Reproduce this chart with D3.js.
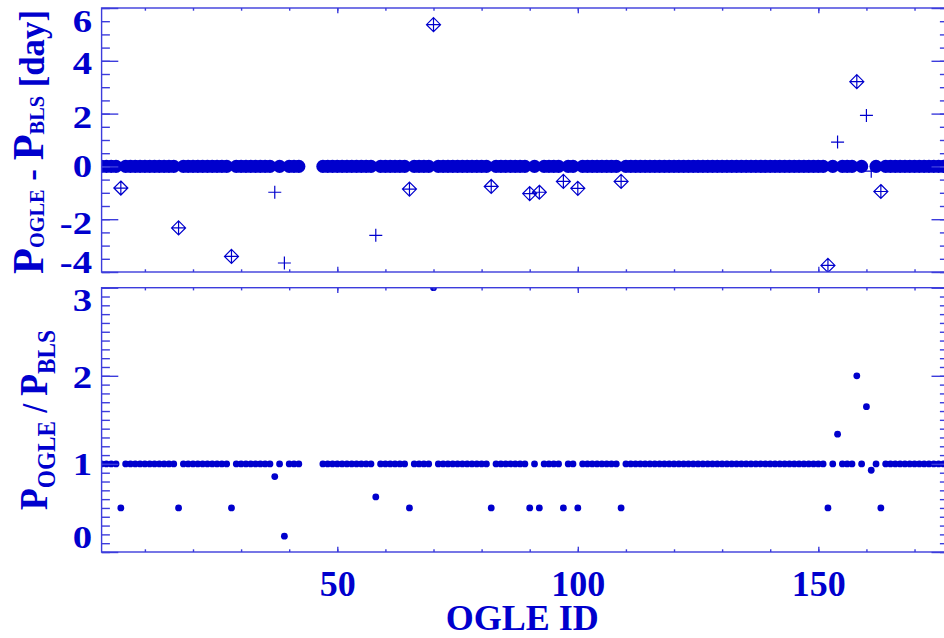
<!DOCTYPE html>
<html>
<head>
<meta charset="utf-8">
<script src="https://cdn.jsdelivr.net/npm/d3@7"></script>
<style>
  body { margin: 0; background: #fff; overflow: hidden; }
  svg { display: block; }
  text { font-family: "Liberation Serif", "Times New Roman", serif; font-weight: bold; fill: #0000cd; }
</style>
</head>
<body>
<svg id="chart" width="944" height="638"></svg>
<script>
// OGLE IDs where both periods agree (difference 0, ratio 1)
const matchedIds = [
  1,2,3,4,6,7,8,9,10,11,12,13,14,15,16,18,19,20,21,22,23,24,25,26,27,
  29,30,31,32,33,34,35,36,38,40,41,42,47,48,49,50,51,52,53,54,55,56,57,
  59,60,61,62,63,64,66,67,68,69,71,72,73,74,75,76,77,78,79,80,81,
  83,84,85,86,87,88,89,91,93,94,95,96,98,99,101,102,103,104,105,106,107,108,
  110,111,112,113,114,115,116,117,118,119,120,121,122,123,124,125,126,127,128,129,
  130,131,132,133,134,135,136,137,138,139,140,141,142,143,144,145,146,147,148,149,
  150,151,153,155,156,157,159,162,164,165,166,167,168,169,170,171,172,173,174,175,176
];

// IDs where the periods disagree
const offIds   = [5, 17, 28, 37, 39, 58, 65, 70, 82, 90, 92, 97, 100, 109, 152, 154, 158, 160, 161, 163];
const offDiff  = [-0.82, -2.33, -3.41, -0.98, -3.66, -2.61, -0.86, 5.37, -0.76, -1.03, -0.98, -0.57, -0.83, -0.57, -3.75, 0.92, 3.21, 1.93, -0.18, -0.95];
const offRatio = [0.5, 0.5, 0.5, 0.856, 0.18, 0.625, 0.5, 3.0, 0.5, 0.5, 0.5, 0.5, 0.5, 0.5, 0.5, 1.337, 2.0, 1.65, 0.928, 0.5];
// harmonics get a diamond round the plus
const harmonicIds = [5, 17, 28, 65, 70, 82, 90, 92, 97, 100, 109, 152, 158, 163];

const xLabelTicks = [50, 100, 150];
const diffLabelTicks = [-4, -2, 0, 2, 4, 6];
const ratioLabelTicks = [0, 1, 2, 3];

const BLUE = "#0000cd";
const AXIS = "#3c3cdc";

const svg = d3.select("#chart");

const x = d3.scaleLinear().domain([1, 177]).range([101.6, 948.2]);
const yDiff  = d3.scaleLinear().domain([-4, 6]).range([272, 8]);
const yRatio = d3.scaleLinear().domain([0, 3]).range([552, 287.7]);

const [x0, x1] = x.range();
const plain = d => String(d);   // hyphen minus, like the original

function styleAxis(g) {
  g.select(".domain").remove();
  g.selectAll("line").attr("stroke", AXIS).attr("stroke-width", 1.4);
}

function drawFrame(y, majors, nudge, showX) {
  const [yb, yt] = y.range();
  const minors = y.ticks(y === yDiff ? 20 : 30);

  // left axis: major with labels, minor without
  const gl = svg.append("g").attr("transform", `translate(${x0},0)`)
    .call(d3.axisLeft(y).tickValues(majors).tickSize(-16.7).tickSizeOuter(0).tickFormat(plain));
  styleAxis(gl);
  gl.selectAll("text")
    .attr("x", null).attr("dy", null)
    .attr("font-size", 31)
    .attr("transform", d => `translate(-9.5,${10.5 + (nudge[d] || 0)}) scale(1.25,1)`);
  styleAxis(svg.append("g").attr("transform", `translate(${x0},0)`)
    .call(d3.axisLeft(y).tickValues(minors).tickSize(-8.3).tickSizeOuter(0).tickFormat("")));

  // right axis
  styleAxis(svg.append("g").attr("transform", `translate(${x1},0)`)
    .call(d3.axisRight(y).tickValues(majors).tickSize(-16.7).tickSizeOuter(0).tickFormat("")));
  styleAxis(svg.append("g").attr("transform", `translate(${x1},0)`)
    .call(d3.axisRight(y).tickValues(minors).tickSize(-8.3).tickSizeOuter(0).tickFormat("")));

  // top and bottom x ticks
  const xMinor = x.ticks(17);
  styleAxis(svg.append("g").attr("transform", `translate(0,${yt})`)
    .call(d3.axisTop(x).tickValues(xLabelTicks).tickSize(-5.3).tickSizeOuter(0).tickFormat("")));
  styleAxis(svg.append("g").attr("transform", `translate(0,${yt})`)
    .call(d3.axisTop(x).tickValues(xMinor).tickSize(-2.7).tickSizeOuter(0).tickFormat("")));
  const gb = svg.append("g").attr("transform", `translate(0,${yb})`)
    .call(d3.axisBottom(x).tickValues(xLabelTicks).tickSize(-5.3).tickSizeOuter(0)
      .tickFormat(showX ? plain : ""));
  styleAxis(gb);
  gb.selectAll("text").attr("y", 44).attr("dy", null).attr("font-size", 36);
  styleAxis(svg.append("g").attr("transform", `translate(0,${yb})`)
    .call(d3.axisBottom(x).tickValues(xMinor).tickSize(-2.7).tickSizeOuter(0).tickFormat("")));

  // box
  svg.append("rect")
    .attr("x", x0).attr("y", yt).attr("width", x1 - x0).attr("height", yb - yt)
    .attr("fill", "none").attr("stroke", AXIS).attr("stroke-width", 1.4);
}

// clip paths
const defs = svg.append("defs");
[["clipTop", yDiff], ["clipBot", yRatio]].forEach(([id, y]) => {
  const [yb, yt] = y.range();
  defs.append("clipPath").attr("id", id).append("rect")
    .attr("x", x0).attr("y", yt).attr("width", x1 - x0).attr("height", yb - yt);
});

const offData = offIds.map((id, i) => ({ id, diff: offDiff[i], ratio: offRatio[i], harm: harmonicIds.includes(id) }));

// top panel marks
const gTop = svg.append("g").attr("clip-path", "url(#clipTop)");
gTop.selectAll("path.off").data(offData).join("path")
  .attr("class", "off")
  .attr("transform", d => `translate(${x(d.id)},${yDiff(d.diff)})`)
  .attr("d", d => d.harm ? "M0,-7L7,0L0,7L-7,0Z M-7,0H7 M0,-7V7" : "M-6.5,0H6.5M0,-6.5V6.5")
  .attr("fill", "none").attr("stroke", BLUE).attr("stroke-width", 1.2);
gTop.selectAll("circle").data(matchedIds).join("circle")
  .attr("cx", d => x(d)).attr("cy", yDiff(0)).attr("r", 6.6).attr("fill", BLUE);

// bottom panel marks
const gBot = svg.append("g").attr("clip-path", "url(#clipBot)");
gBot.selectAll("circle.m").data(matchedIds).join("circle")
  .attr("class", "m")
  .attr("cx", d => x(d)).attr("cy", yRatio(1)).attr("r", 3.4).attr("fill", BLUE);
gBot.selectAll("circle.o").data(offData).join("circle")
  .attr("class", "o")
  .attr("cx", d => x(d.id)).attr("cy", d => yRatio(d.ratio)).attr("r", 3.4).attr("fill", BLUE);

drawFrame(yDiff, diffLabelTicks, { 6: 13, 4: 2, 2: 3, 0: 0, "-2": 4, "-4": -10 }, false);
drawFrame(yRatio, ratioLabelTicks, { 3: 12, 2: 1, 1: 0, 0: -15 }, true);

// axis titles
svg.append("text")
  .attr("x", (x0 + 943) / 2).attr("y", 630)
  .attr("text-anchor", "middle").attr("font-size", 36)
  .text("OGLE ID");

function yTitle(cx, cy, len, big, sub, shift, parts) {
  const t = svg.append("text")
    .attr("transform", `translate(${cx},${cy}) rotate(-90)`)
    .attr("text-anchor", "middle")
    .attr("textLength", len).attr("lengthAdjust", "spacingAndGlyphs");
  parts.forEach(([s, kind]) => {
    const ts = t.append("tspan").text(s);
    if (kind === "sub") ts.attr("font-size", sub).attr("dy", shift);
    else if (kind === "back") ts.attr("font-size", 36).attr("dy", -shift);
    else ts.attr("font-size", kind || big);
  });
}

yTitle(43, 142, 264, 44, 21, 1, [
  ["P"], ["OGLE", "sub"], [" - ", "back"], ["P"], ["BLS", "sub"], ["\u00a0[day]", 36]
]);
yTitle(47, 420, 180, 40, 26, 8, [
  ["P"], ["OGLE", "sub"], [" / ", "back"], ["P"], ["BLS", "sub"]
]);
</script>
</body>
</html>
